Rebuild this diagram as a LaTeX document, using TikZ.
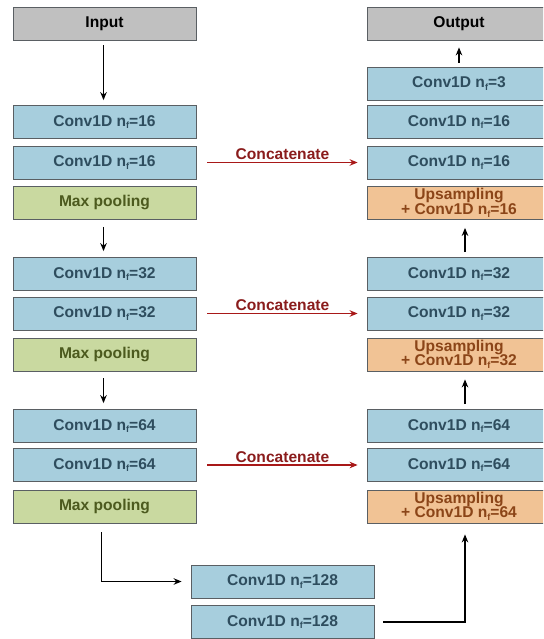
\documentclass[tikz,border=0pt]{standalone}
\usepackage{fontspec}
\setmainfont{Liberation Sans}
\usetikzlibrary{arrows.meta}
\definecolor{bluefill}{HTML}{A7CEDD}
\definecolor{bluetext}{HTML}{2E4D5E}
\definecolor{greenfill}{HTML}{C9D9A0}
\definecolor{greentext}{HTML}{4C5A1E}
\definecolor{orangefill}{HTML}{F1C395}
\definecolor{orangetext}{HTML}{8B4518}
\definecolor{grayfill}{HTML}{C0C0C0}
\definecolor{boxline}{HTML}{5A5F63}
\definecolor{catred}{HTML}{A81818}
\definecolor{cattext}{HTML}{8A1C1C}
\newcommand{\nfsub}{n\raisebox{-0.35ex}{\fontsize{9}{9}\selectfont f}}
\begin{document}
\begin{tikzpicture}[x=1pt,y=-1pt,
  box/.style={draw=boxline, line width=0.8pt, minimum width=183pt, minimum height=33pt,
    inner sep=0pt, align=center, font=\fontsize{15.6}{14.5}\selectfont\bfseries},
  conv/.style={box, fill=bluefill, text=bluetext},
  pool/.style={box, fill=greenfill, text=greentext},
  upbox/.style={box, fill=orangefill, text=orangetext, minimum width=184pt},
  iobox/.style={box, fill=grayfill, text=black},
  rconv/.style={conv, minimum width=184pt},
  arr/.style={line width=1.7pt, -{Stealth[length=8pt,width=6.5pt]}},
  cat/.style={line width=1.7pt, draw=catred, -{Stealth[length=8pt,width=6.5pt]}},
  catlabel/.style={text=cattext, font=\fontsize{15.6}{15}\selectfont\bfseries, inner sep=1pt}
]
\useasboundingbox (0,0) rectangle (543,639);
\clip (0,0) rectangle (543,639);

% left column
\node[iobox] (In) at (104.5,23.5) {Input};
\node[conv] (L1) at (104.5,122) {Conv1D \nfsub=16};
\node[conv] (L2) at (104.5,162.5) {Conv1D \nfsub=16};
\node[pool] (L3) at (104.5,203) {Max pooling};
\node[conv] (L4) at (104.5,274) {Conv1D \nfsub=32};
\node[conv] (L5) at (104.5,313.5) {Conv1D \nfsub=32};
\node[pool] (L6) at (104.5,354.5) {Max pooling};
\node[conv] (L7) at (104.5,426) {Conv1D \nfsub=64};
\node[conv] (L8) at (104.5,465) {Conv1D \nfsub=64};
\node[pool] (L9) at (104.5,506.5) {Max pooling};

% bottom
\node[conv] (B1) at (282.5,581.5) {Conv1D \nfsub=128};
\node[conv] (B2) at (282.5,622) {Conv1D \nfsub=128};

% right column
\node[iobox, minimum width=184pt] (Out) at (459,23.5) {Output};
\node[rconv] (R0) at (459,83.5) {Conv1D \nfsub=3};
\node[rconv] (R1) at (459,122) {Conv1D \nfsub=16};
\node[rconv] (R2) at (459,162.5) {Conv1D \nfsub=16};
\node[upbox] (R3) at (459,203) {Upsampling\\+ Conv1D \nfsub=16};
\node[rconv] (R4) at (459,274) {Conv1D \nfsub=32};
\node[rconv] (R5) at (459,313.5) {Conv1D \nfsub=32};
\node[upbox] (R6) at (459,354.5) {Upsampling\\+ Conv1D \nfsub=32};
\node[rconv] (R7) at (459,426) {Conv1D \nfsub=64};
\node[rconv] (R8) at (459,465) {Conv1D \nfsub=64};
\node[upbox] (R9) at (459,506.5) {Upsampling\\+ Conv1D \nfsub=64};

% down arrows
\draw[arr, shorten <=5pt, shorten >=5pt] ([xshift=-1pt]In.south) -- ([xshift=-1pt]L1.north);
\draw[arr, shorten <=7pt, shorten >=6pt] ([xshift=-1pt]L3.south) -- ([xshift=-1pt]L4.north);
\draw[arr, shorten <=7pt, shorten >=6pt] ([xshift=-1pt]L6.south) -- ([xshift=-1pt]L7.north);

% concatenate
\draw[cat, shorten <=11pt, shorten >=9pt] (L2.east) -- node[catlabel, above=1pt, xshift=1pt] {Concatenate} (R2.west);
\draw[cat, shorten <=11pt, shorten >=9pt] (L5.east) -- node[catlabel, above=1pt, xshift=1pt] {Concatenate} (R5.west);
\draw[cat, shorten <=11pt, shorten >=9pt] (L8.east) -- node[catlabel, above=1pt, xshift=1pt] {Concatenate} (R8.west);

% up arrows
\draw[arr, shorten <=4pt, shorten >=7pt] (R0.north) -- (Out.south);
\draw[arr, shorten <=5pt, shorten >=8pt] ([xshift=6pt]R4.north) -- ([xshift=6pt]R3.south);
\draw[arr, shorten <=5pt, shorten >=8pt] ([xshift=6pt]R7.north) -- ([xshift=6pt]R6.south);

% bottleneck
\draw[arr, shorten <=9pt, shorten >=9pt] ([xshift=-3pt]L9.south) |- (B1.west);
\draw[arr, shorten <=9pt, shorten >=11pt] (B2.east) -| ([xshift=6pt]R9.south);
\end{tikzpicture}
\end{document}
